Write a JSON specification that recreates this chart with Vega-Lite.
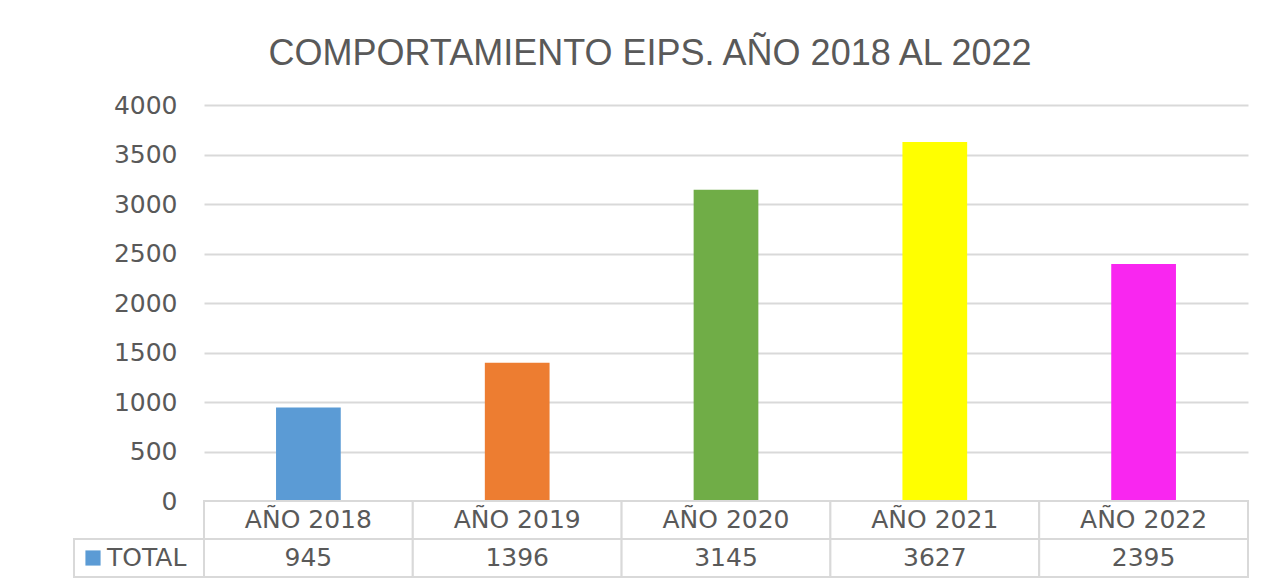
{
  "$schema": "https://vega.github.io/schema/vega-lite/v6.json",
  "padding": {"left": 73, "top": 36, "right": 5, "bottom": 5},
  "background": "white",
  "config": {"view": {"stroke": null}, "font": "DejaVu Sans"},
  "spacing": 0,
  "bounds": "flush",
  "resolve": {"scale": {"x": "independent"}},
  "datasets": {
    "eips": [
      {"year": "AÑO 2018", "total": 945},
      {"year": "AÑO 2019", "total": 1396},
      {"year": "AÑO 2020", "total": 3145},
      {"year": "AÑO 2021", "total": 3627},
      {"year": "AÑO 2022", "total": 2395}
    ],
    "series": [{"label": "TOTAL"}]
  },
  "vconcat": [
    {
      "width": 1044,
      "height": 396,
      "title": {
        "text": "COMPORTAMIENTO EIPS. AÑO 2018 AL 2022",
        "font": "Liberation Sans",
        "fontSize": 36,
        "fontWeight": "normal",
        "color": "#595959",
        "anchor": "middle",
        "dx": -76,
        "offset": 20
      },
      "data": {"name": "eips"},
      "mark": {"type": "bar", "width": {"band": 0.31}},
      "encoding": {
        "x": {"field": "year", "type": "nominal", "sort": null, "scale": {"paddingInner": 0, "paddingOuter": 0}, "axis": null},
        "y": {
          "field": "total",
          "type": "quantitative",
          "scale": {"domain": [0, 4000]},
          "axis": {
            "values": [0, 500, 1000, 1500, 2000, 2500, 3000, 3500, 4000],
            "format": "d",
            "title": null,
            "domain": false,
            "ticks": false,
            "labelFontSize": 25,
            "labelFont": "DejaVu Sans",
            "labelColor": "#595959",
            "labelPadding": 27,
            "gridColor": "#d9d9d9",
            "gridWidth": 2
          }
        },
        "color": {
          "field": "year",
          "type": "nominal",
          "sort": null,
          "scale": {"range": ["#5b9bd5", "#ed7d31", "#70ad47", "#ffff00", "#f926f0"]},
          "legend": null
        }
      }
    },
    {
      "width": 1044,
      "height": 76,
      "resolve": {"scale": {"x": "independent"}},
      "layer": [
        {
          "data": {"name": "eips"},
          "mark": {"type": "rect", "fill": "white", "stroke": "#d9d9d9", "strokeWidth": 2},
          "encoding": {
            "x": {"field": "year", "type": "nominal", "sort": null, "scale": {"paddingInner": 0, "paddingOuter": 0}, "axis": null},
            "y": {"datum": "header", "type": "nominal", "scale": {"domain": ["header", "total"], "paddingInner": 0, "paddingOuter": 0}, "axis": null}
          }
        },
        {
          "data": {"name": "eips"},
          "mark": {"type": "rect", "fill": "white", "stroke": "#d9d9d9", "strokeWidth": 2},
          "encoding": {
            "x": {"field": "year", "type": "nominal", "sort": null, "scale": {"paddingInner": 0, "paddingOuter": 0}, "axis": null},
            "y": {"datum": "total", "type": "nominal", "axis": null}
          }
        },
        {
          "data": {"name": "eips"},
          "mark": {"type": "text", "fontSize": 25, "color": "#595959", "baseline": "middle", "align": "center"},
          "encoding": {
            "x": {"field": "year", "type": "nominal", "sort": null, "scale": {"paddingInner": 0, "paddingOuter": 0}, "axis": null},
            "y": {"datum": "header", "type": "nominal", "axis": null},
            "text": {"field": "year"}
          }
        },
        {
          "data": {"name": "eips"},
          "mark": {"type": "text", "fontSize": 25, "color": "#595959", "baseline": "middle", "align": "center"},
          "encoding": {
            "x": {"field": "year", "type": "nominal", "sort": null, "scale": {"paddingInner": 0, "paddingOuter": 0}, "axis": null},
            "y": {"datum": "total", "type": "nominal", "axis": null},
            "text": {"field": "total", "type": "quantitative", "format": "d"}
          }
        },
        {
          "data": {"name": "series"},
          "mark": {"type": "rect", "fill": "white", "stroke": "#d9d9d9", "strokeWidth": 2},
          "encoding": {
            "x": {"datum": 0, "type": "quantitative", "scale": {"domain": [0, 130], "range": [-130, 0], "nice": false, "zero": false}, "axis": null},
            "x2": {"datum": 130},
            "y": {"datum": "total", "type": "nominal", "axis": null}
          }
        },
        {
          "data": {"name": "series"},
          "mark": {"type": "point", "shape": "square", "filled": true, "size": 230, "color": "#5b9bd5", "opacity": 1},
          "encoding": {
            "x": {"datum": 19, "type": "quantitative", "scale": {"domain": [0, 130], "range": [-130, 0], "nice": false, "zero": false}, "axis": null},
            "y": {"datum": "total", "type": "nominal", "axis": null}
          }
        },
        {
          "data": {"name": "series"},
          "mark": {"type": "text", "fontSize": 25, "color": "#595959", "baseline": "middle", "align": "left"},
          "encoding": {
            "x": {"datum": 33, "type": "quantitative", "scale": {"domain": [0, 130], "range": [-130, 0], "nice": false, "zero": false}, "axis": null},
            "y": {"datum": "total", "type": "nominal", "axis": null},
            "text": {"field": "label"}
          }
        }
      ]
    }
  ]
}
